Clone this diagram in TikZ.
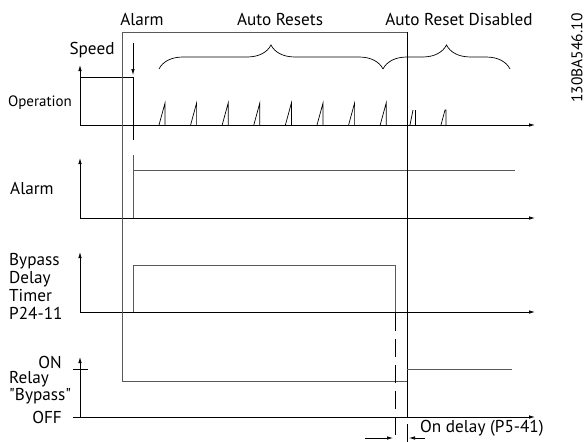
\documentclass[tikz,border=0pt]{standalone}
\usepackage{fontspec}
\setmainfont{PT Sans}
\usetikzlibrary{arrows.meta,decorations.pathreplacing}

\begin{document}
\begin{tikzpicture}[x=1pt,y=-1pt,
    every node/.style={font=\fontsize{17.2}{18}\selectfont, inner sep=0pt},
    axis/.style={line width=0.8pt, -{Latex[length=6pt,width=3.5pt]}},
    signal/.style={line width=0.9pt, black!65},
    spike/.style={line width=0.7pt},
    tip/.style={-{Latex[length=6pt,width=3.5pt]}, line width=0.7pt}]
    \useasboundingbox (0,0) rectangle (587,442);

    % Nadpisy
    \node (alarmtop) at (142,19) {Alarm};
    \node (resets) at (280,19) {Auto Resets};
    \node (disabled) at (459,19) {Auto Reset Disabled};
    \node[rotate=90, font=\fontsize{15.5}{16}\selectfont] (code) at (577,58) {130BA546.10};

    % Slozene zavorky
    \draw[line width=0.7pt, decorate, decoration={brace, amplitude=24pt}]
        (159,69) coordinate (B1) -- (383,69) coordinate (B2);
    \draw[line width=0.7pt, decorate, decoration={brace, amplitude=24pt}]
        (B2) -- (510,69) coordinate (B3);

    % Operation
    \node (speed) at (92,50) {Speed};
    \node[font=\fontsize{15}{16}\selectfont] (operation) at (40,103) {Operation};
    \draw[axis] (80,125) coordinate (O1) -- (80,65);
    \draw[axis] (O1) -- (535,125);
    \draw[line width=0.8pt] (O1 |- 0,77) -- (133,77) -- (133,140);
    \draw[tip] (133,43) -- (133,75);
    \foreach \i in {0,...,7}
        \draw[spike] (159+31.6*\i,125) -- (165+31.6*\i,103) -- (165+31.6*\i,125);
    \draw[spike] (410,125) -- (413,110);
    \draw[spike] (415,110) -- (415,125);
    \draw[spike] (441,125) -- (445,110) -- (446,110) -- (446,125);

    % Alarm
    \node[anchor=west] (alarm) at (10,188) {Alarm};
    \draw[axis] (80,218) coordinate (O2) -- (80,158);
    \draw[axis] (O2) -- (535,218);
    \draw[signal] (133,155) -- (133,218);
    \draw[signal] (133,170) -- (515,170);

    % Bypass Delay Timer
    \node[anchor=west, align=left] (timer) at (9,286) {Bypass\\Delay\\Timer\\P24-11};
    \draw[axis] (80,312) coordinate (O3) -- (80,252);
    \draw[axis] (O3) -- (535,312);
    \draw[signal] (133,312) -- (133,265) -- (395,265) -- (395,312);

    % Relay Bypass
    \node[anchor=east] (on) at (62,362) {ON};
    \node[anchor=west, align=left, font=\fontsize{17.2}{13}\selectfont] (relay) at (9,388)
        {Relay\\\textquotedbl Bypass\textquotedbl};
    \node[anchor=east] (off) at (62,417) {OFF};
    \draw[axis] (80,417) coordinate (O4) -- (80,357);
    \draw[line width=0.8pt] (73,369) -- (88,369);
    \draw[axis] (73,417) -- (535,417);

    % Ramecek alarmu a rele
    \draw[signal] (122,381) -- (122,32) -- (407,32);
    \draw[line width=0.8pt] (407,32) coordinate (R1) -- (407,417);
    \draw[signal] (122,381) -- (407,381);
    \draw[signal] (407,369) -- (512,369);

    % On delay
    \draw[line width=0.8pt, dash pattern=on 18pt off 8pt] (395,313) -- (395,442);
    \draw[line width=0.8pt] (407,424) -- (407,442);
    \draw[tip] (365,438) -- (393,438);
    \draw[tip] (425,438) -- (409,438);
    \node[anchor=west] (delay) at (420,428) {On delay (P5-41)};
\end{tikzpicture}
\end{document}
